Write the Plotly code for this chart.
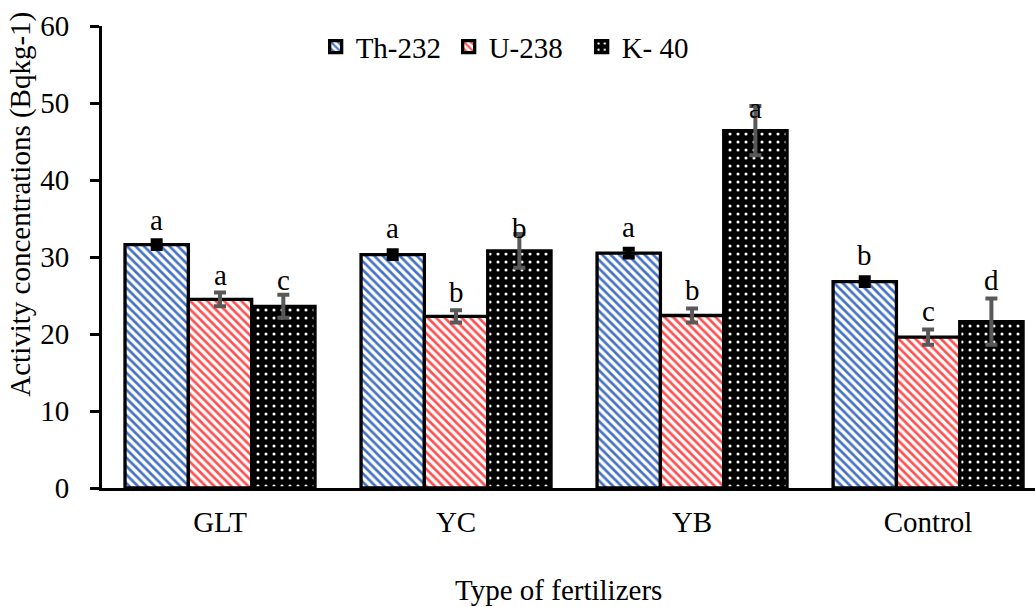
import plotly.graph_objects as go

# Fertilizer types and measured activity concentrations (Bq/kg)
categories = ["GLT", "YC", "YB", "Control"]
series_names = ["Th-232", "U-238", "K- 40"]

th232 = [31.6, 30.3, 30.5, 26.8]
u238 = [24.5, 22.3, 22.4, 19.6]
k40 = [23.6, 30.8, 46.4, 21.6]

th232_err = [0.5, 0.5, 0.5, 0.5]
u238_err = [0.9, 0.8, 0.9, 1.0]
k40_err = [1.5, 2.2, 3.2, 3.0]

# Significance letters and the height at which each one is written
th232_letters = ["a", "a", "a", "b"]
u238_letters = ["a", "b", "b", "c"]
k40_letters = ["c", "b", "a", "d"]
th232_letter_y = [34.8, 33.8, 33.9, 30.3]
u238_letter_y = [27.7, 25.5, 25.7, 23.0]
k40_letter_y = [27.0, 33.8, 49.4, 27.0]

FONT = "Liberation Serif, 'Times New Roman', Times, serif"
FS = 29
BARGAP = 0.195
x_idx = list(range(len(categories)))

styles = [
    dict(shape="\\", fg="#4472C4", bg="white", size=6, solidity=0.45, err="black", th=5, w=6),
    dict(shape="\\", fg="#FF5050", bg="white", size=6, solidity=0.45, err="#595959", th=4, w=6),
    dict(shape=".", fg="white", bg="black", size=8, solidity=0.12, err="#595959", th=4, w=6),
]
values = [th232, u238, k40]
errors = [th232_err, u238_err, k40_err]

fig = go.Figure()
for name, vals, errs, st in zip(series_names, values, errors, styles):
    fig.add_trace(go.Bar(
        x=x_idx, y=vals, name=name,
        marker=dict(
            color=st["bg"],
            line=dict(color="black", width=3.3),
            pattern=dict(shape=st["shape"], fgcolor=st["fg"], bgcolor=st["bg"],
                         size=st["size"], solidity=st["solidity"], fillmode="replace"),
        ),
        error_y=dict(type="data", array=errs, visible=True, color=st["err"],
                     thickness=st["th"], width=st["w"]),
    ))

# Letter annotations placed over each bar of a group
bar_w = (1 - BARGAP) / 3
letters = [th232_letters, u238_letters, k40_letters]
letter_y = [th232_letter_y, u238_letter_y, k40_letter_y]
annotations = []
for s, (lets, ys) in enumerate(zip(letters, letter_y)):
    off = (s - 1) * bar_w
    for i, (t, yv) in enumerate(zip(lets, ys)):
        annotations.append(dict(x=i + off, y=yv, xref="x", yref="y", text=t,
                                showarrow=False, yanchor="middle",
                                font=dict(family=FONT, size=FS, color="black")))

# Axis titles
annotations.append(dict(text="Activity concentrations (Bqkg-1)", xref="paper", yref="paper",
                        x=-0.087, y=0.615, textangle=-90, showarrow=False,
                        xanchor="center", yanchor="middle",
                        font=dict(family=FONT, size=FS, color="black")))
annotations.append(dict(text="Type of fertilizers", xref="paper", yref="paper",
                        x=0.489, y=-0.221, showarrow=False,
                        xanchor="center", yanchor="middle",
                        font=dict(family=FONT, size=FS, color="black")))

fig.update_layout(
    width=1035, height=607,
    margin=dict(l=102, r=0, t=26, b=119),
    paper_bgcolor="white", plot_bgcolor="white",
    barmode="group", bargap=BARGAP, bargroupgap=0,
    font=dict(family=FONT, size=FS, color="black"),
    showlegend=True,
    legend=dict(orientation="h", x=0.229, y=0.955, xanchor="left", yanchor="middle",
                bgcolor="rgba(0,0,0,0)", font=dict(family=FONT, size=FS),
                itemwidth=30, entrywidth=88, entrywidthmode="pixels"),
    annotations=annotations,
    xaxis=dict(
        tickmode="array", tickvals=x_idx, ticktext=categories,
        range=[-0.5, 3.453], showgrid=False, zeroline=False,
        showline=True, linecolor="black", linewidth=3, ticks="",
        ticklabelstandoff=6,
        tickfont=dict(family=FONT, size=FS),
    ),
    yaxis=dict(
        range=[0, 60], dtick=10, showgrid=False, zeroline=False,
        showline=True, linecolor="black", linewidth=3,
        ticks="outside", ticklen=9, tickwidth=3, tickcolor="black",
        ticklabelstandoff=15,
        tickfont=dict(family=FONT, size=FS),
    ),
)

fig.write_html("out.html")
